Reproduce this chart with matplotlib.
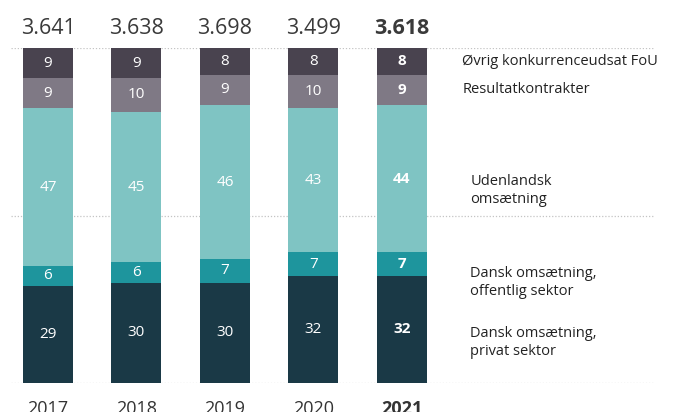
import numpy as np
import matplotlib
matplotlib.use("Agg")
from matplotlib import pyplot as plt

plt.rcParams['font.family'] = ['Open Sans', 'DejaVu Sans']

years = ['2017', '2018', '2019', '2020', '2021']
totals = ['3.641', '3.638', '3.698', '3.499', '3.618']

# shares in percent, bottom to top
privat = [29, 30, 30, 32, 32]
offentlig = [6, 6, 7, 7, 7]
udenlandsk = [47, 45, 46, 43, 44]
resultat = [9, 10, 9, 10, 9]
oevrig = [9, 9, 8, 8, 8]

series = [privat, offentlig, udenlandsk, resultat, oevrig]
colors = ['#1a3946', '#1e959d', '#7fc4c3', '#7f7985', '#49434f']

legend_labels = ['Dansk omsætning,\nprivat sektor',
                 'Dansk omsætning,\noffentlig sektor',
                 'Udenlandsk\nomsætning',
                 'Resultatkontrakter',
                 'Øvrig konkurrenceudsat FoU']
legend_y = [12, 30, 57.5, 87.5, 96]
legend_x = [4.77, 4.77, 4.77, 4.68, 4.68]

fig = plt.figure(figsize=(6.89, 4.12), dpi=100)
ax = fig.add_axes([11/689, 29/412, 644/689, 335/412])

x = np.arange(len(years))
bottom = np.zeros(len(years))
for vals, col in zip(series, colors):
    ax.bar(x, vals, bottom=bottom, width=0.565, color=col, zorder=2)
    for i, v in enumerate(vals):
        ax.text(x[i], bottom[i] + v / 2, str(v), ha='center', va='center',
                color='white', fontsize=11,
                fontweight='bold' if i == len(years) - 1 else 'normal', zorder=3)
    bottom += np.array(vals)

for gy in [0, 50, 100]:
    ax.axhline(gy, color='#c4c4c4', lw=0.9, linestyle=(0, (1, 1.5)), zorder=1)

for i, t in enumerate(totals):
    ax.text(x[i], 106.5, t, ha='center', va='center_baseline', fontsize=15.5,
            color='#3a3a3a', fontweight='bold' if i == len(years) - 1 else 'normal')

for lab, ly, lx in zip(legend_labels, legend_y, legend_x):
    ax.text(lx, ly, lab, ha='left', va='center', fontsize=10.5,
            color='#222222', linespacing=1.25)

ax.set_xlim(-0.418, 6.859)
ax.set_ylim(0, 100)
ax.set_xticks(x)
ax.set_xticklabels(years, fontsize=13, color='#333333')
ax.get_xticklabels()[-1].set_fontweight('bold')
ax.tick_params(axis='x', length=0, pad=12)
ax.set_yticks([])
for s in ax.spines.values():
    s.set_visible(False)

fig.savefig('out.png', dpi=100)
